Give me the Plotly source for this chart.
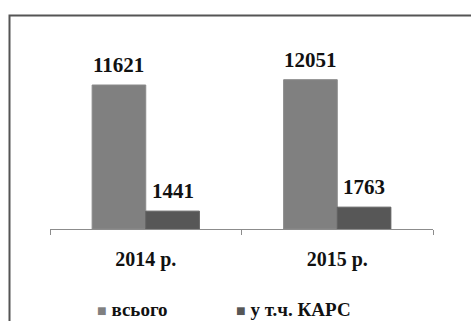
import plotly.graph_objects as go

categories = ["2014 р.", "2015 р."]
total_name = "всього"
kars_name = "у т.ч. КАРС"
total_values = [11621, 12051]
kars_values = [1441, 1763]

W, H = 471, 321
L, R, T, B = 50, 38, 30, 92
plot_w = W - L - R
plot_h = H - T - B
y_max = 16060
bargap = 0.44
cat_px = plot_w / len(categories)
bar_off = (1 - bargap) / 4 * cat_px

font_family = "Liberation Serif"
txt_color = "#111111"
c_total = "#808080"
c_kars = "#575757"

fig = go.Figure()
fig.add_trace(go.Bar(x=categories, y=total_values, name=total_name, showlegend=False,
                     marker=dict(color=c_total, line=dict(color="#8a8a8a", width=1))))
fig.add_trace(go.Bar(x=categories, y=kars_values, name=kars_name, showlegend=False,
                     marker=dict(color=c_kars, line=dict(color="#5f5f5f", width=1))))

for vals, sign in ((total_values, -1), (kars_values, 1)):
    for c, v in zip(categories, vals):
        fig.add_annotation(x=c, y=v, text=f"<b>{v}</b>", showarrow=False,
                           xshift=sign * bar_off, yshift=20, yanchor="middle",
                           font=dict(family=font_family, size=21, color=txt_color))

def px_x(p):
    return (p - L) / plot_w
def px_y(p):
    return (H - B - p) / plot_h

# outer frame
fig.add_shape(type="rect", xref="paper", yref="paper",
              x0=px_x(9.5), x1=px_x(480), y0=px_y(335), y1=px_y(15.5),
              line=dict(color="#555555", width=2), layer="below")

# legend drawn as text entries
for name, col, xp in ((total_name, c_total, 95), (kars_name, c_kars, 234)):
    fig.add_annotation(xref="paper", yref="paper", x=px_x(xp), y=px_y(309),
                       xanchor="left", yanchor="middle", showarrow=False,
                       text=(f"<span style='color:{col};font-size:16px'>■</span> "
                             f"<b>{name}</b>"),
                       font=dict(family=font_family, size=19, color=txt_color))

fig.update_layout(
    width=W, height=H,
    margin=dict(l=L, r=R, t=T, b=B),
    paper_bgcolor="white", plot_bgcolor="white",
    barmode="group", bargap=bargap, bargroupgap=0,
    xaxis=dict(showline=True, linecolor="#8c8c8c", linewidth=1,
               ticks="outside", tickson="boundaries", ticklen=5, tickcolor="#8c8c8c",
               tickfont=dict(family=font_family, size=20, color=txt_color),
               ticklabelstandoff=12, showgrid=False, zeroline=False,
               tickvals=categories, ticktext=[f"<b>{c}</b>" for c in categories]),
    yaxis=dict(range=[0, y_max], visible=False, showgrid=False),
    font=dict(family=font_family),
)

fig.write_html("out.html", config={"responsive": False, "displayModeBar": False},
               post_script="document.body.style.margin='0';")
